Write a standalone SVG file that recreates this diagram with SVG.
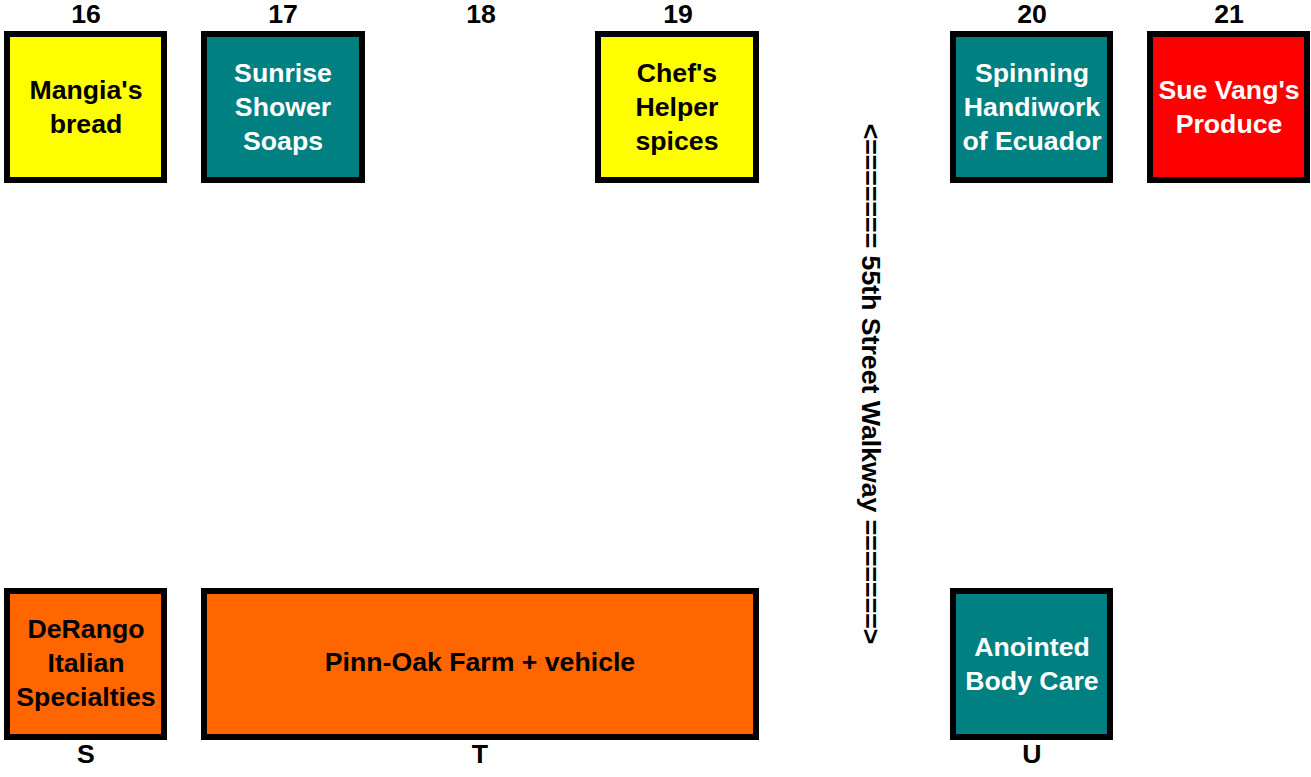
<svg xmlns="http://www.w3.org/2000/svg" width="1311" height="777" viewBox="0 0 1311 777">
<style>
text{font-family:"Liberation Sans",Arial,sans-serif;font-weight:bold;font-size:26.67px;text-anchor:middle}
.box{stroke:#000;stroke-width:6}
.y{fill:#FFFF00}.t{fill:#008080}.r{fill:#FF0000}.o{fill:#FF6600}
.dk{fill:#000}.lt{fill:#fff}
.lbl{fill:#000}
</style>
<rect width="1311" height="777" fill="#fff"/>
<g id="labels">
<text class="lbl" x="86" y="23">16</text>
<text class="lbl" x="283" y="23">17</text>
<text class="lbl" x="481" y="23">18</text>
<text class="lbl" x="678" y="23">19</text>
<text class="lbl" x="1032" y="23">20</text>
<text class="lbl" x="1229" y="23">21</text>
<text class="lbl" x="86" y="763">S</text>
<text class="lbl" x="480" y="763">T</text>
<text class="lbl" x="1032" y="763">U</text>
</g>
<g id="stall16">
<rect class="box y" x="7" y="34" width="157" height="146"/>
<text class="dk" x="86" y="99">Mangia's</text>
<text class="dk" x="86" y="133">bread</text>
</g>
<g id="stall17">
<rect class="box t" x="204" y="34" width="158" height="146"/>
<text class="lt" x="283" y="82">Sunrise</text>
<text class="lt" x="283" y="116">Shower</text>
<text class="lt" x="283" y="150">Soaps</text>
</g>
<g id="stall19">
<rect class="box y" x="598" y="34" width="158" height="146"/>
<text class="dk" x="677" y="82">Chef's</text>
<text class="dk" x="677" y="116">Helper</text>
<text class="dk" x="677" y="150">spices</text>
</g>
<g id="stall20">
<rect class="box t" x="953" y="34" width="157" height="146"/>
<text class="lt" x="1032" y="82">Spinning</text>
<text class="lt" x="1032" y="116">Handiwork</text>
<text class="lt" x="1032" y="150">of Ecuador</text>
</g>
<g id="stall21">
<rect class="box r" x="1150" y="34" width="157" height="146"/>
<text class="lt" x="1229" y="99">Sue Vang's</text>
<text class="lt" x="1229" y="133">Produce</text>
</g>
<g id="stallS">
<rect class="box o" x="7" y="591" width="157" height="146"/>
<text class="dk" x="86" y="638">DeRango</text>
<text class="dk" x="86" y="672">Italian</text>
<text class="dk" x="86" y="706">Specialties</text>
</g>
<g id="stallT">
<rect class="box o" x="204" y="591" width="552" height="146"/>
<text class="dk" x="480" y="671">Pinn-Oak Farm + vehicle</text>
</g>
<g id="stallU">
<rect class="box t" x="953" y="591" width="157" height="146"/>
<text class="lt" x="1032" y="656">Anointed</text>
<text class="lt" x="1032" y="690">Body Care</text>
</g>
<g id="walkway">
<text class="lbl" transform="translate(862,384) rotate(90)">&lt;======= 55th Street Walkway =======&gt;</text>
</g>
<g id="connectors"></g>
</svg>
